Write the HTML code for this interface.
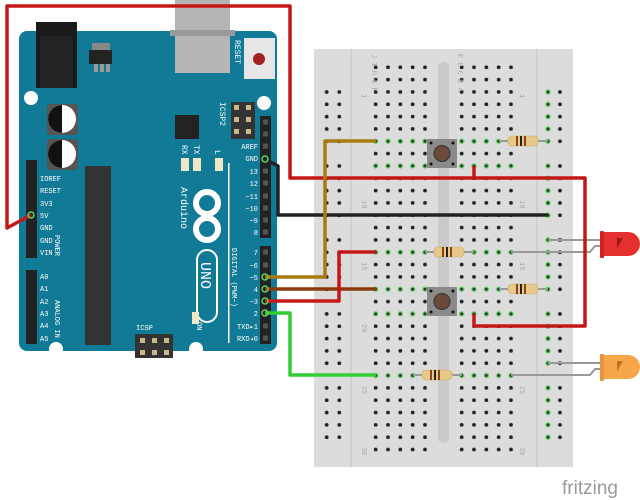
<!DOCTYPE html>
<html><head><meta charset="utf-8"><style>html,body{margin:0;padding:0;background:#fff}svg{display:block}</style></head><body>
<svg width="640" height="500" viewBox="0 0 640 500" xmlns="http://www.w3.org/2000/svg" font-family="Liberation Mono, monospace">
<defs>
<pattern id="hL" patternUnits="userSpaceOnUse" x="369.5" y="61.1" width="12.33" height="12.33"><circle cx="6.165" cy="6.165" r="1.9" fill="#222"/></pattern>
<pattern id="hR" patternUnits="userSpaceOnUse" x="455.5" y="61.1" width="12.33" height="12.33"><circle cx="6.165" cy="6.165" r="1.9" fill="#222"/></pattern>
<pattern id="gL" patternUnits="userSpaceOnUse" x="369.5" y="61.1" width="12.33" height="12.33"><circle cx="6.165" cy="6.165" r="2.7" fill="#5fd35f"/><circle cx="6.165" cy="6.165" r="1.5" fill="#333"/></pattern>
<pattern id="gR" patternUnits="userSpaceOnUse" x="455.5" y="61.1" width="12.33" height="12.33"><circle cx="6.165" cy="6.165" r="2.7" fill="#5fd35f"/><circle cx="6.165" cy="6.165" r="1.5" fill="#333"/></pattern>
<pattern id="rl" patternUnits="userSpaceOnUse" x="320.4" y="85.8" width="12.6" height="12.33"><circle cx="6.3" cy="6.165" r="1.9" fill="#222"/></pattern>
<pattern id="rb" patternUnits="userSpaceOnUse" x="553.8" y="85.8" width="12.33" height="12.33"><circle cx="6.165" cy="6.165" r="1.9" fill="#222"/></pattern>
<pattern id="rg" patternUnits="userSpaceOnUse" x="541.8" y="85.8" width="12.33" height="12.33"><circle cx="6.165" cy="6.165" r="2.7" fill="#5fd35f"/><circle cx="6.165" cy="6.165" r="1.5" fill="#333"/></pattern>
</defs>
<!-- Breadboard -->
<rect x="314" y="49" width="259" height="418" fill="#dcdcdc"/>
<line x1="351" y1="49" x2="351" y2="467" stroke="#c4c4c4"/>
<line x1="537" y1="49" x2="537" y2="467" stroke="#c4c4c4"/>
<rect x="438" y="62" width="11" height="381" rx="5" fill="#cacaca"/>
<rect x="369.5" y="61.1" width="61.65" height="394.6" fill="url(#hL)"/>
<rect x="455.5" y="61.1" width="61.65" height="394.6" fill="url(#hR)"/>
<!-- rails -->
<g>
<rect x="320.4" y="85.8" width="25.2" height="61.65" fill="url(#rl)"/>
<rect x="320.4" y="159.8" width="25.2" height="61.65" fill="url(#rl)"/>
<rect x="320.4" y="233.8" width="25.2" height="61.65" fill="url(#rl)"/>
<rect x="320.4" y="307.7" width="25.2" height="61.65" fill="url(#rl)"/>
<rect x="320.4" y="381.7" width="25.2" height="61.65" fill="url(#rl)"/>
<rect x="553.8" y="85.8" width="12.33" height="61.65" fill="url(#rb)"/>
<rect x="553.8" y="159.8" width="12.33" height="61.65" fill="url(#rb)"/>
<rect x="553.8" y="233.8" width="12.33" height="61.65" fill="url(#rb)"/>
<rect x="553.8" y="307.7" width="12.33" height="61.65" fill="url(#rb)"/>
<rect x="553.8" y="381.7" width="12.33" height="61.65" fill="url(#rb)"/>
<rect x="541.8" y="85.8" width="12.33" height="61.65" fill="url(#rg)"/>
<rect x="541.8" y="159.8" width="12.33" height="61.65" fill="url(#rg)"/>
<rect x="541.8" y="233.8" width="12.33" height="61.65" fill="url(#rg)"/>
<rect x="541.8" y="307.7" width="12.33" height="61.65" fill="url(#rg)"/>
<rect x="541.8" y="381.7" width="12.33" height="61.65" fill="url(#rg)"/>
</g>
<!-- green rows -->
<g>
<rect x="369.5" y="135.2" width="61.65" height="12.33" fill="#dcdcdc"/><rect x="369.5" y="135.2" width="61.65" height="12.33" fill="url(#gL)"/>
<rect x="455.5" y="135.2" width="49.32" height="12.33" fill="#dcdcdc"/><rect x="455.5" y="135.2" width="49.32" height="12.33" fill="url(#gR)"/>
<rect x="369.5" y="159.8" width="61.65" height="12.33" fill="#dcdcdc"/><rect x="369.5" y="159.8" width="61.65" height="12.33" fill="url(#gL)"/>
<rect x="455.5" y="159.8" width="61.65" height="12.33" fill="#dcdcdc"/><rect x="455.5" y="159.8" width="61.65" height="12.33" fill="url(#gR)"/>
<rect x="369.5" y="246.2" width="61.65" height="12.33" fill="#dcdcdc"/><rect x="369.5" y="246.2" width="61.65" height="12.33" fill="url(#gL)"/>
<rect x="455.5" y="246.2" width="61.65" height="12.33" fill="#dcdcdc"/><rect x="455.5" y="246.2" width="61.65" height="12.33" fill="url(#gR)"/>
<rect x="369.5" y="283.2" width="61.65" height="12.33" fill="#dcdcdc"/><rect x="369.5" y="283.2" width="61.65" height="12.33" fill="url(#gL)"/>
<rect x="455.5" y="283.2" width="49.32" height="12.33" fill="#dcdcdc"/><rect x="455.5" y="283.2" width="49.32" height="12.33" fill="url(#gR)"/>
<rect x="369.5" y="307.7" width="61.65" height="12.33" fill="#dcdcdc"/><rect x="369.5" y="307.7" width="61.65" height="12.33" fill="url(#gL)"/>
<rect x="455.5" y="307.7" width="61.65" height="12.33" fill="#dcdcdc"/><rect x="455.5" y="307.7" width="61.65" height="12.33" fill="url(#gR)"/>
<rect x="369.5" y="369.4" width="61.65" height="12.33" fill="#dcdcdc"/><rect x="369.5" y="369.4" width="61.65" height="12.33" fill="url(#gL)"/>
<rect x="455.5" y="369.4" width="61.65" height="12.33" fill="#dcdcdc"/><rect x="455.5" y="369.4" width="61.65" height="12.33" fill="url(#gR)"/>
</g>
<g font-size="7" fill="#aaa">
<text x="362" y="94" transform="rotate(90 362 94)">1</text>
<text x="362" y="200" transform="rotate(90 362 200)">10</text>
<text x="362" y="262" transform="rotate(90 362 262)">15</text>
<text x="362" y="324" transform="rotate(90 362 324)">20</text>
<text x="362" y="386" transform="rotate(90 362 386)">25</text>
<text x="362" y="447" transform="rotate(90 362 447)">30</text>
<text x="520" y="94" transform="rotate(90 520 94)">1</text>
<text x="520" y="200" transform="rotate(90 520 200)">10</text>
<text x="520" y="262" transform="rotate(90 520 262)">15</text>
<text x="520" y="386" transform="rotate(90 520 386)">25</text>
<text x="520" y="447" transform="rotate(90 520 447)">30</text>
<text x="372" y="54" transform="rotate(90 372 54)">J I H G F</text>
<text x="458" y="54" transform="rotate(90 458 54)">E D C B A</text>
</g>
<!-- buttons -->
<g><rect x="427" y="139" width="30" height="29" fill="#8a8a8a"/><circle cx="442" cy="153.5" r="8" fill="#6b4a3a" stroke="#333"/>
<circle cx="431" cy="143" r="1.5" fill="#111"/><circle cx="453" cy="143" r="1.5" fill="#111"/><circle cx="431" cy="164" r="1.5" fill="#111"/><circle cx="453" cy="164" r="1.5" fill="#111"/></g>
<g><rect x="427" y="287" width="30" height="29" fill="#8a8a8a"/><circle cx="442" cy="301.5" r="8" fill="#6b4a3a" stroke="#333"/>
<circle cx="431" cy="291" r="1.5" fill="#111"/><circle cx="453" cy="291" r="1.5" fill="#111"/><circle cx="431" cy="312" r="1.5" fill="#111"/><circle cx="453" cy="312" r="1.5" fill="#111"/></g>
<!-- resistors -->
<g stroke="#999" stroke-width="2"><line x1="499" y1="141" x2="548" y2="141"/><line x1="425" y1="252" x2="474" y2="252"/><line x1="499" y1="289" x2="548" y2="289"/><line x1="413" y1="375" x2="462" y2="375"/></g>
<g fill="#e6c98a" stroke="#c9a964" stroke-width="0.6">
<rect x="508" y="136" width="30" height="10" rx="4"/><rect x="434" y="247" width="30" height="10" rx="4"/><rect x="508" y="284" width="30" height="10" rx="4"/><rect x="422" y="370" width="30" height="10" rx="4"/></g>
<g fill="#222">
<rect x="516" y="136" width="2" height="10" fill="#8b4513"/><rect x="520" y="136" width="2" height="10"/><rect x="524" y="136" width="2" height="10" fill="#8b4513"/>
<rect x="442" y="247" width="2" height="10" fill="#8b4513"/><rect x="446" y="247" width="2" height="10"/><rect x="450" y="247" width="2" height="10" fill="#8b4513"/>
<rect x="516" y="284" width="2" height="10" fill="#8b4513"/><rect x="520" y="284" width="2" height="10"/><rect x="524" y="284" width="2" height="10" fill="#8b4513"/>
<rect x="430" y="370" width="2" height="10" fill="#8b4513"/><rect x="434" y="370" width="2" height="10"/><rect x="438" y="370" width="2" height="10" fill="#8b4513"/></g>
<!-- LEDs -->
<g stroke="#999" stroke-width="2" fill="none">
<polyline points="548,240 602,240"/><polyline points="511,252 590,252 595,246 602,246"/>
<polyline points="548,363 602,363"/><polyline points="511,375 590,375 595,369 602,369"/></g>
<path d="M602,232 h26 a12,12 0 0 1 0,24 h-26 z" fill="#e53030"/><rect x="600" y="231" width="4" height="27" rx="1" fill="#d42020"/>
<path d="M617,238 l6,0 l-6,10 z" fill="#a01818"/>
<path d="M602,355 h26 a12,12 0 0 1 0,24 h-26 z" fill="#f7a64a"/><rect x="600" y="354" width="4" height="27" rx="1" fill="#e8923a"/>
<path d="M617,361 l6,0 l-6,10 z" fill="#c27020"/>
<!-- Arduino -->
<rect x="19" y="31" width="258" height="320" rx="8" fill="#117a96"/>
<rect x="175" y="0" width="55" height="73" fill="#b5b5b5"/><rect x="170" y="30" width="65" height="6" fill="#9a9a9a"/>
<rect x="36" y="22" width="41" height="66" fill="#1a1a1a"/><rect x="40" y="36" width="33" height="52" fill="#222"/>
<rect x="89" y="50" width="23" height="14" fill="#222"/><rect x="94" y="64" width="4" height="8" fill="#999"/><rect x="100" y="64" width="4" height="8" fill="#999"/><rect x="106" y="64" width="4" height="8" fill="#999"/><rect x="92" y="43" width="18" height="7" fill="#888"/>
<rect x="244" y="38" width="31" height="41" fill="#e6e6e6"/><circle cx="259" cy="59" r="6" fill="#a12020"/>
<text x="235" y="40" font-size="8" fill="#fff" transform="rotate(90 235 40)">RESET</text>
<circle cx="31" cy="98" r="7" fill="#fff"/><circle cx="264" cy="103" r="7" fill="#fff"/><circle cx="56" cy="349" r="7" fill="#fff"/><circle cx="196" cy="349" r="7" fill="#fff"/>
<rect x="47" y="104" width="31" height="31" rx="3" fill="#555"/><circle cx="62" cy="119" r="14" fill="#fff"/><path d="M62,105 a14,14 0 0 0 0,28 z" fill="#111"/>
<rect x="47" y="139" width="31" height="31" rx="3" fill="#555"/><circle cx="62" cy="154" r="14" fill="#fff"/><path d="M62,140 a14,14 0 0 0 0,28 z" fill="#111"/>
<rect x="175" y="115" width="24" height="24" fill="#222"/>
<rect x="231" y="102" width="24" height="37" fill="#333"/>
<g fill="#c9b98a"><rect x="234" y="105" width="5" height="5"/><rect x="246" y="105" width="5" height="5"/><rect x="234" y="117" width="5" height="5"/><rect x="246" y="117" width="5" height="5"/><rect x="234" y="129" width="5" height="5"/><rect x="246" y="129" width="5" height="5"/></g>
<text x="220" y="102" font-size="8" fill="#fff" transform="rotate(90 220 102)">ICSP2</text>
<text x="182" y="145" font-size="8" fill="#fff" transform="rotate(90 182 145)">RX</text>
<text x="194" y="145" font-size="8" fill="#fff" transform="rotate(90 194 145)">TX</text>
<text x="215" y="150" font-size="8" fill="#fff" transform="rotate(90 215 150)">L</text>
<rect x="181" y="158" width="8" height="13" fill="#f0e6c8"/><rect x="193" y="158" width="8" height="13" fill="#f0e6c8"/><rect x="215" y="158" width="8" height="13" fill="#f0e6c8"/>
<rect x="85" y="166" width="26" height="179" fill="#333"/>
<text x="181" y="187" font-size="10" fill="#fff" transform="rotate(90 181 187)">Arduino</text>
<g fill="none" stroke="#fff" stroke-width="6"><circle cx="207" cy="203" r="11"/><circle cx="207" cy="229" r="11"/></g>
<rect x="197" y="250" width="20" height="72" rx="10" fill="none" stroke="#fff" stroke-width="2"/>
<text x="201" y="262" font-size="15" fill="#fff" transform="rotate(90 201 262)">UNO</text>
<text x="232" y="248" font-size="7" fill="#fff" transform="rotate(90 232 248)">DIGITAL (PWM~)</text>
<rect x="228" y="163" width="1.5" height="180" fill="#fff"/>
<!-- right headers -->
<rect x="260" y="116" width="11" height="122" fill="#222"/><rect x="260" y="246" width="11" height="98" fill="#222"/>
<g fill="#555">
<rect x="263" y="119.5" width="5" height="5"/><rect x="263" y="131.5" width="5" height="5"/><rect x="263" y="143.5" width="5" height="5"/><rect x="263" y="168.5" width="5" height="5"/><rect x="263" y="180.5" width="5" height="5"/><rect x="263" y="193.5" width="5" height="5"/><rect x="263" y="205.5" width="5" height="5"/><rect x="263" y="217.5" width="5" height="5"/><rect x="263" y="229.5" width="5" height="5"/>
<rect x="263" y="249.5" width="5" height="5"/><rect x="263" y="262.5" width="5" height="5"/><rect x="263" y="323.5" width="5" height="5"/><rect x="263" y="335.5" width="5" height="5"/>
<rect x="29" y="163.5" width="5" height="5"/><rect x="29" y="175.5" width="5" height="5"/><rect x="29" y="188.5" width="5" height="5"/><rect x="29" y="200.5" width="5" height="5"/><rect x="29" y="249.5" width="5" height="5"/>
<rect x="29" y="273.5" width="5" height="5"/><rect x="29" y="285.5" width="5" height="5"/><rect x="29" y="298.5" width="5" height="5"/><rect x="29" y="310.5" width="5" height="5"/><rect x="29" y="322.5" width="5" height="5"/><rect x="29" y="335.5" width="5" height="5"/>
</g>
<g fill="#1e5a1e"><rect x="29" y="225.5" width="5" height="5"/><rect x="29" y="237.5" width="5" height="5"/></g>
<g font-size="7" fill="#fff" text-anchor="end">
<text x="258" y="149">AREF</text><text x="258" y="161">GND</text><text x="258" y="174">13</text><text x="258" y="186">12</text><text x="258" y="199">~11</text><text x="258" y="211">~10</text><text x="258" y="223">~9</text><text x="258" y="235">8</text>
<text x="258" y="255">7</text><text x="258" y="268">~6</text><text x="258" y="280">~5</text><text x="258" y="292">4</text><text x="258" y="304">~3</text><text x="258" y="316">2</text><text x="258" y="329">TXD▸1</text><text x="258" y="341">RXD◂0</text></g>
<!-- left headers -->
<rect x="26" y="160" width="11" height="98" fill="#222"/><rect x="26" y="270" width="11" height="74" fill="#222"/>
<g font-size="7" fill="#fff">
<text x="40" y="181">IOREF</text><text x="40" y="193">RESET</text><text x="40" y="206">3V3</text><text x="40" y="218">5V</text><text x="40" y="230">GND</text><text x="40" y="243">GND</text><text x="40" y="255">VIN</text>
<text x="40" y="279">A0</text><text x="40" y="291">A1</text><text x="40" y="304">A2</text><text x="40" y="316">A3</text><text x="40" y="328">A4</text><text x="40" y="341">A5</text>
<text x="55" y="235" transform="rotate(90 55 235)">POWER</text><text x="55" y="300" transform="rotate(90 55 300)">ANALOG IN</text>
<text x="136" y="330">ICSP</text><text x="197" y="322" transform="rotate(90 197 322)">ON</text></g>
<rect x="135" y="334" width="38" height="24" fill="#333"/>
<g fill="#c9b98a"><rect x="140" y="338" width="5" height="5"/><rect x="152" y="338" width="5" height="5"/><rect x="164" y="338" width="5" height="5"/><rect x="140" y="350" width="5" height="5"/><rect x="152" y="350" width="5" height="5"/><rect x="164" y="350" width="5" height="5"/></g>
<rect x="192" y="312" width="7" height="12" fill="#f0e6c8"/>
<!-- wires -->
<g fill="none" stroke-linejoin="round" stroke-width="3.5">
<polyline points="31,215 7,228 7,6 290,6 290,178 585,178 585,326 474,326 474,314" stroke="#c41818"/>
<polyline points="474,178 474,166" stroke="#c41818"/>
<polyline points="265,159 278,166 278,215 548,215" stroke="#222"/>
<polyline points="265,277 325,277 325,141 376,141" stroke="#a97a10"/>
<polyline points="265,289 376,289" stroke="#8a3a0a"/>
<polyline points="265,301 339,301 339,252 376,252" stroke="#c41818"/>
<polyline points="265,313 290,313 290,375 376,375" stroke="#33cc33"/>
</g>
<g fill="none" stroke="#5fd35f" stroke-width="1.5"><circle cx="31" cy="215" r="3"/><circle cx="265" cy="159" r="3"/><circle cx="265" cy="277" r="3"/><circle cx="265" cy="289" r="3"/><circle cx="265" cy="301" r="3"/><circle cx="265" cy="313" r="3"/></g>
<text x="562" y="494" font-size="19" fill="#9a9a9a" font-family="Liberation Sans, sans-serif">fritzing</text>
</svg>
</body></html>
